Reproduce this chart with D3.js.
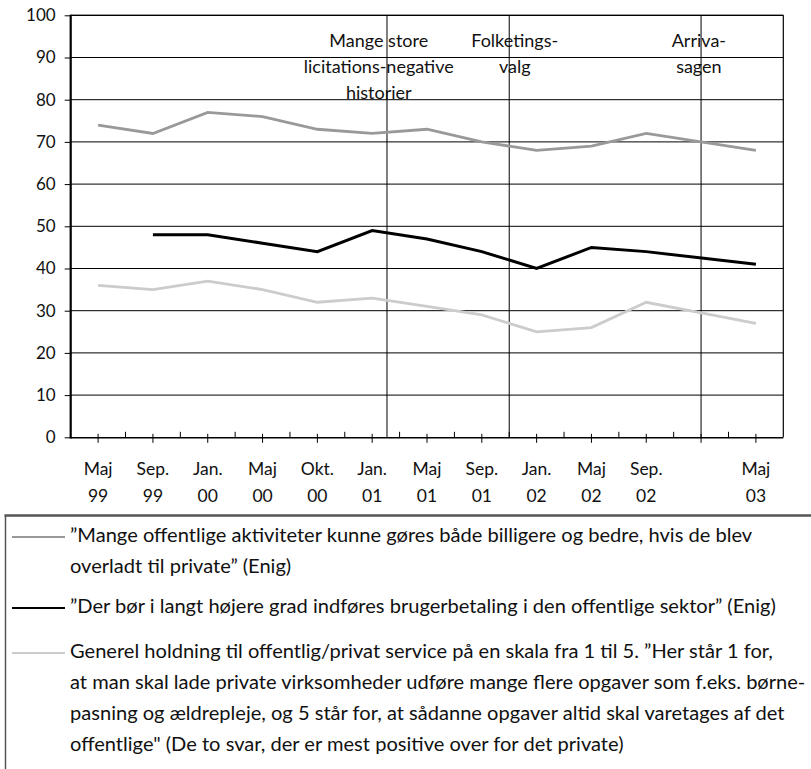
<!DOCTYPE html>
<html><head><meta charset="utf-8">
<script src="https://cdn.jsdelivr.net/npm/d3@7"></script>
<style>body{margin:0;background:#fff}svg{display:block}text{font-family:Lato,"Liberation Sans",sans-serif;fill:#111}</style>
</head><body>
<svg id="chart" width="811" height="769"></svg>
<script>
// ---- data ----
const categories = ["Maj 99","Sep. 99","Jan. 00","Maj 00","Okt. 00","Jan. 01","Maj 01","Sep. 01","Jan. 02","Maj 02","Sep. 02","Jan. 03","Maj 03"];
const tickLabelsTop = ["Maj","Sep.","Jan.","Maj","Okt.","Jan.","Maj","Sep.","Jan.","Maj","Sep.","","Maj"];
const tickLabelsBottom = ["99","99","00","00","00","01","01","01","02","02","02","","03"];
const seriesBilligere = [74,72,77,76,73,72,73,70,68,69,72,null,68];
const seriesBrugerbetaling = [null,48,48,46,44,49,47,44,40,45,44,null,41];
const seriesHoldning = [36,35,37,35,32,33,31,29,25,26,32,null,27];
const yTicks = [0,10,20,30,40,50,60,70,80,90,100];
const eventLineAt = [5.27,7.5,11];
const eventLabelAt = [5.12,7.6,10.96];
const eventLabels = [["Mange store","licitations-negative","historier"],["Folketings-","valg"],["Arriva-","sagen"]];
const legendLabels = [
  ["”Mange offentlige aktiviteter kunne gøres både billigere og bedre, hvis de blev","overladt til private” (Enig)"],
  ["”Der bør i langt højere grad indføres brugerbetaling i den offentlige sektor” (Enig)"],
  ["Generel holdning til offentlig/privat service på en skala fra 1 til 5. ”Her står 1 for,","at man skal lade private virksomheder udføre mange flere opgaver som f.eks. børne-","pasning og ældrepleje, og 5 står for, at sådanne opgaver altid skal varetages af det","offentlige\" (De to svar, der er mest positive over for det private)"]
];
const seriesColors = ["#999999","#000000","#cccccc"];

// ---- layout ----
const svg = d3.select("#chart");
const L = 70.7, R = 783.3, T = 15.3, B = 437.3;
const x = d3.scalePoint().domain(categories).range([L,R]).padding(0.5);
const step = x.step();
const xi = i => L + (i+0.5)*step;
const y = d3.scaleLinear().domain([0,100]).range([B,T]);

// gridlines
svg.append("g").selectAll("line").data(yTicks.filter(v=>v>0)).join("line")
  .attr("x1",L).attr("x2",R).attr("y1",d=>y(d)).attr("y2",d=>y(d))
  .attr("stroke","#000").attr("stroke-width",1);

// y axis
const yAxis = svg.append("g").attr("transform",`translate(${L},0)`)
  .call(d3.axisLeft(y).tickValues(yTicks).tickSize(6).tickPadding(9));
yAxis.select(".domain").remove();
yAxis.selectAll(".tick line").attr("stroke","#000");
yAxis.selectAll(".tick text").attr("font-size",17).attr("fill","#111").attr("font-family","Lato");

// event lines
svg.append("g").selectAll("line").data(eventLineAt).join("line")
  .attr("x1",d=>xi(d)).attr("x2",d=>xi(d)).attr("y1",T).attr("y2",B)
  .attr("stroke","#000").attr("stroke-width",1);

// event labels
const ev = svg.append("g").selectAll("text").data(eventLabels).join("text")
  .attr("text-anchor","middle").attr("font-size",18)
  .attr("x",(d,i)=>xi(eventLabelAt[i]));
ev.each(function(lines,i){
  d3.select(this).selectAll("tspan").data(lines).join("tspan")
    .attr("x",xi(eventLabelAt[i])).attr("y",(t,j)=>46.5+j*26).text(t=>t);
});

// frame
svg.append("line").attr("x1",R).attr("x2",R).attr("y1",T).attr("y2",B).attr("stroke","#000").attr("stroke-width",1.2);
svg.append("line").attr("x1",L).attr("x2",R).attr("y1",T).attr("y2",T).attr("stroke","#000").attr("stroke-width",1.2);

// series
const line = d3.line().x(d=>x(d.c)).y(d=>y(d.v));
[seriesBilligere,seriesBrugerbetaling,seriesHoldning].forEach((s,k)=>{
  const pts = s.map((v,i)=>({c:categories[i],v})).filter(d=>d.v!==null);
  svg.append("path").attr("d",line(pts)).attr("fill","none")
    .attr("stroke",seriesColors[k]).attr("stroke-width",k===1?3:2.8).attr("stroke-linejoin","miter");
});

// x axis
svg.append("line").attr("x1",L).attr("x2",R).attr("y1",B+0.5).attr("y2",B+0.5).attr("stroke","#000").attr("stroke-width",1.6);
svg.append("line").attr("x1",L).attr("x2",L).attr("y1",T-0.6).attr("y2",B+1.3).attr("stroke","#000").attr("stroke-width",2.2);
const gx = svg.append("g");
gx.selectAll("line.maj").data(categories).join("line").attr("class","maj")
  .attr("x1",d=>x(d)).attr("x2",d=>x(d)).attr("y1",B-3.5).attr("y2",B+5.5)
  .attr("stroke","#000").attr("stroke-width",1);
gx.selectAll("line.min").data(d3.range(1,categories.length)).join("line").attr("class","min")
  .attr("x1",d=>L+d*step).attr("x2",d=>L+d*step).attr("y1",B-5.5).attr("y2",B)
  .attr("stroke","#000").attr("stroke-width",1);
gx.selectAll("text.t1").data(categories).join("text").attr("class","t1")
  .attr("x",d=>x(d)).attr("y",475).attr("text-anchor","middle").attr("font-size",17.5)
  .text((d,i)=>tickLabelsTop[i]);
gx.selectAll("text.t2").data(categories).join("text").attr("class","t2")
  .attr("x",d=>x(d)).attr("y",502).attr("text-anchor","middle").attr("font-size",17.5)
  .text((d,i)=>tickLabelsBottom[i]);

// legend
const lg = svg.append("g");
lg.append("line").attr("x1",4.5).attr("x2",811).attr("y1",515.5).attr("y2",515.5).attr("stroke","#555").attr("stroke-width",2.5);
lg.append("line").attr("x1",5.5).attr("x2",5.5).attr("y1",515).attr("y2",769).attr("stroke","#555").attr("stroke-width",1.5);
const legendBase = [[542,573],[613],[658,689,720,751]];
legendLabels.forEach((lines,k)=>{
  lg.append("line").attr("x1",12).attr("x2",65).attr("y1",legendBase[k][0]-5).attr("y2",legendBase[k][0]-5)
    .attr("stroke",seriesColors[k]).attr("stroke-width",2);
  lines.forEach((t,j)=>{
    lg.append("text").attr("class","lgt").attr("x",70).attr("y",legendBase[k][j]).attr("font-size",17).text(t);
  });
});
// fit legend font: first line ~692px wide, no line beyond the right edge
const nodes = lg.selectAll("text.lgt").nodes();
const w1 = nodes[0].getComputedTextLength();
const wmax = d3.max(nodes, n=>n.getComputedTextLength());
const fs = Math.min(17*692/w1, 17*736/wmax);
lg.selectAll("text.lgt").attr("font-size",fs);
</script>
</body></html>
